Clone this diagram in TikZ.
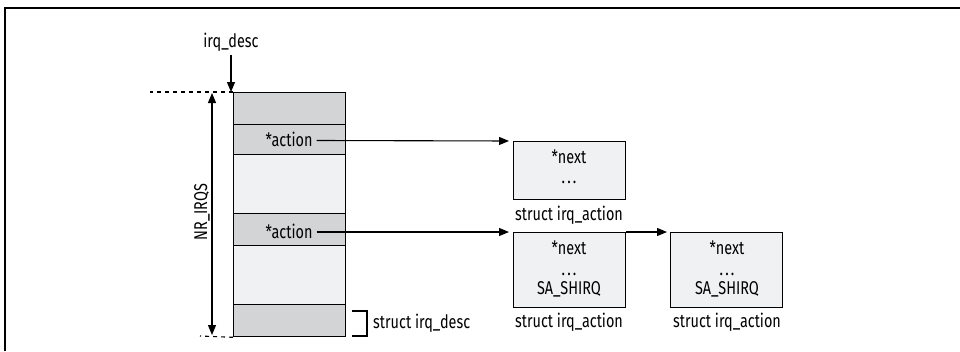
\documentclass[tikz,border=0pt]{standalone}
\usepackage{fontspec}
\setmainfont{Fira Sans}[FakeStretch=0.78]
\usetikzlibrary{arrows.meta}
\definecolor{darkcell}{HTML}{D3D4D6}
\definecolor{lightcell}{HTML}{F0F1F3}
\newcommand{\mydots}{.\hspace{2.2pt}.\hspace{2.2pt}.}
\begin{document}
\begin{tikzpicture}[x=1pt,y=-1pt,
  lbl/.style={font=\fontsize{18.5}{20}\selectfont, inner sep=0pt},
  dotlbl/.style={lbl, text height=3pt, text depth=0pt, anchor=base},
  cell/.style={draw=black, line width=1.3pt, minimum width=112pt, inner sep=0pt, anchor=north west},
  sbox/.style={draw=black, line width=1.3pt, fill=lightcell, minimum width=112pt, inner sep=0pt, anchor=north west},
  tip/.tip={Triangle[length=10pt,width=8pt]},
  arr/.style={-tip, line width=1.1pt},
  dashline/.style={dashed, dash pattern=on 4pt off 4pt, line width=1.1pt}]
\useasboundingbox (0,0) rectangle (960,351);
% frame
\draw[line width=1.5pt] (5,351) -- (5,8) -- (960,8);
% column
\node[cell, fill=darkcell, minimum height=32pt] (r1) at (233,92) {};
\node[cell, fill=darkcell, minimum height=30pt] (r2) at (233,124) {};
\node[cell, fill=lightcell, minimum height=59pt] (r3) at (233,154) {};
\node[cell, fill=darkcell, minimum height=32pt] (r4) at (233,213) {};
\node[cell, fill=lightcell, minimum height=59pt] (r5) at (233,245) {};
\node[cell, fill=darkcell, minimum height=32pt] (r6) at (233,304) {};
\node[lbl] (a1) at (289,139) {*action};
\node[lbl] (a2) at (289,231) {*action};
% irq_desc
\node[lbl] (irqdesc) at (231,42) {irq\_desc};
\draw[arr] (irqdesc.south) ++(0,4) coordinate (id0) -- (r1.north west -| id0) ;
% NR_IRQS
\draw[dashline] (r1.north west) -- (150,92);
\draw[dashline] (r6.south west) -- (200,336);
\draw[tip-tip, line width=1.1pt] (212,93) -- (212,335);
\node[lbl, rotate=90] (nr) at (202,212) {NR\_IRQS};
% struct irq_desc bracket
\coordinate (b1) at (352,311);
\coordinate (b2) at (352,336);
\draw[line width=1.1pt] (b1) -- (367,311) -- (367,336) -- (b2);
\node[lbl, anchor=west] (sdesc) at (373,323) {struct irq\_desc};
% action boxes
\node[sbox, minimum height=58pt] (x1) at (513,141) {};
\node[lbl] (n1) at (569,157) {*next};
\node[dotlbl] (d1) at (569,183) {\mydots};
\node[lbl] (s1) at (569,215) {struct irq\_action};
\node[sbox, minimum height=75pt] (x2) at (513,232) {};
\node[lbl] (n2) at (569,248) {*next};
\node[dotlbl] (d2) at (569,275) {\mydots};
\node[lbl] (q2) at (569,289) {SA\_SHIRQ};
\node[lbl] (s2) at (569,322) {struct irq\_action};
\node[sbox, minimum height=75pt] (x3) at (670,232) {};
\node[lbl] (n3) at (727,248) {*next};
\node[dotlbl] (d3) at (727,275) {\mydots};
\node[lbl] (q3) at (727,289) {SA\_SHIRQ};
\node[lbl] (s3) at (727,322) {struct irq\_action};
% pointers
\draw[arr, shorten >=4pt] (a1.east) ++(4,1.5) -- (x1.north west);
\draw[arr, shorten >=4pt] (a2.east) ++(4,1) -- (x2.north west);
\draw[arr, shorten >=3pt] (x2.north east) -- (x3.north west);
\end{tikzpicture}
\end{document}
